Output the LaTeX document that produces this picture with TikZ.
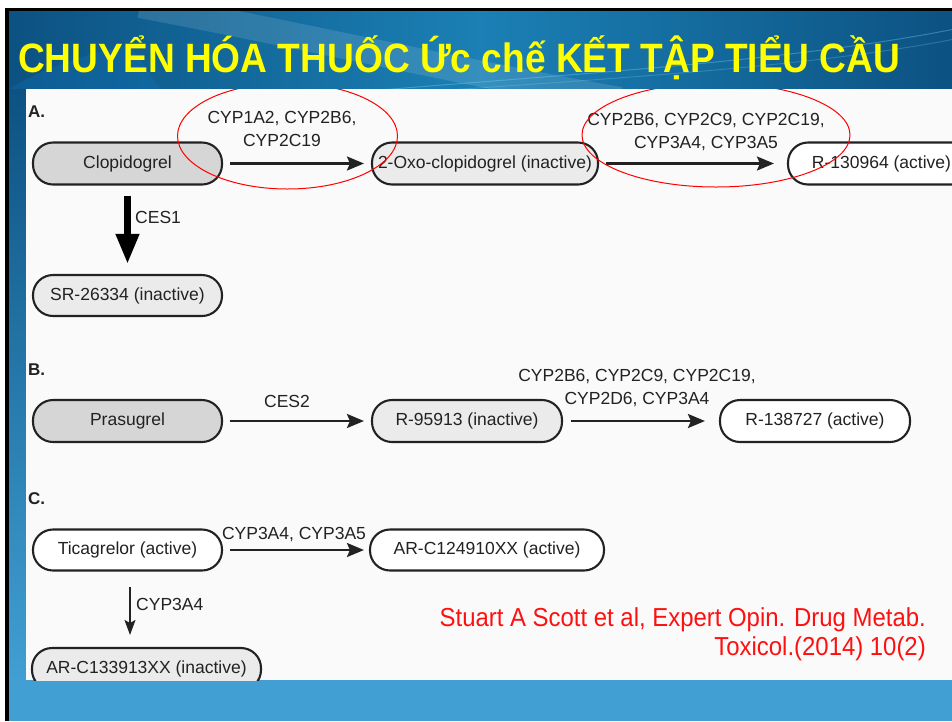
\documentclass[tikz,border=0pt]{standalone}
\usepackage{fontspec}
\usepackage{graphicx}
\setmainfont{Liberation Sans}
\usetikzlibrary{arrows.meta}
\definecolor{txt}{HTML}{222222}
\definecolor{grayA}{HTML}{D6D6D6}
\definecolor{grayB}{HTML}{EBEBEB}
\definecolor{panelbg}{HTML}{FAFAFA}
\definecolor{bluebot}{HTML}{419FD3}
\definecolor{bluedark}{HTML}{0C5282}
\definecolor{bluemid}{HTML}{1B80B5}
\definecolor{titleyellow}{HTML}{FFFF00}
\definecolor{citered}{HTML}{FF1010}
\begin{document}
\begin{tikzpicture}[x=1pt,y=-1pt,
  pill/.style={draw=txt, line width=2.1pt, rounded corners=20pt, minimum height=42pt,
    font=\fontsize{17.5}{20}\selectfont, text=txt, text height=12.5pt, text depth=3.5pt, inner sep=0pt},
  arr/.style={draw=txt, line width=2.3pt, -{Stealth[length=17pt,width=14pt,inset=3pt]}},
  thinarr/.style={draw=txt, line width=1.5pt, -{Stealth[length=15pt,width=11pt,inset=3pt]}},
  bigarr/.style={draw=black, line width=7pt, -{Triangle[length=30pt,width=22pt]}},
  lab/.style={font=\fontsize{17.5}{23}\selectfont, text=txt, align=center, inner sep=0pt},
  seclab/.style={font=\fontsize{17}{20}\selectfont\bfseries, text=txt, inner sep=0pt, anchor=west},
  redell/.style={draw=red, line width=1pt},
  cite/.style={font=\fontsize{26}{30}\selectfont, text=citered, inner sep=0pt, anchor=base east}
]
\useasboundingbox (0,0) rectangle (952,721);
% slide background
\fill[white] (0,0) rectangle (952,721);
\fill[black] (5,8) rectangle (952,721);
\shade[left color=bluedark, right color=bluedark, middle color=bluemid] (9,11) rectangle (952,89);
\begin{scope}
  \clip (9,11) rectangle (952,89);
  \draw[white, opacity=0.12, line width=26pt] (140,5) .. controls (300,35) and (450,70) .. (620,100);
  \draw[cyan!50!white, opacity=0.35, line width=1pt] (380,90) .. controls (600,72) and (800,60) .. (960,28);
  \draw[cyan!50!white, opacity=0.25, line width=1pt] (420,92) .. controls (620,78) and (820,66) .. (960,38);
  \fill[cyan!60!blue, opacity=0.25] (9,89) .. controls (40,70) and (80,55) .. (130,45) -- (160,89) -- cycle;
\end{scope}
\shade[top color=bluedark, bottom color=bluebot] (9,89) rectangle (26,680);
\fill[bluebot] (9,680) rectangle (952,721);
\fill[panelbg] (26,89) rectangle (952,680);
% title
\node[anchor=base west, inner sep=0pt, text=titleyellow, font=\fontsize{41}{45}\selectfont\bfseries]
  (title) at (18,72) {\scalebox{0.905}[1]{CHUYỂN HÓA THUỐC Ức chế KẾT TẬP TIỂU CẦU}};
\begin{scope}
\clip (26,89) rectangle (952,680);
% section A
\node[seclab] (secA) at (28,112) {A.};
\node[pill, fill=grayA, minimum width=189pt] (clo) at (127.5,163.5) {Clopidogrel};
\node[pill, fill=grayB, minimum width=226pt] (oxo) at (485,163.5) {2-Oxo-clopidogrel (inactive)};
\node[pill, fill=white, minimum width=187pt] (r130) at (881.5,163.5) {R-130964 (active)};
\node[pill, fill=grayB, minimum width=189pt, minimum height=41pt] (sr) at (127.5,295.5) {SR-26334 (inactive)};
\draw[arr, shorten <=7pt, shorten >=7pt] (clo.east) -- (oxo.west);
\draw[arr, shorten <=7pt, shorten >=13pt] (oxo.east) -- (r130.west);
\draw[bigarr, shorten <=10pt, shorten >=10pt] (clo.south) -- (sr.north);
\node[lab] (lA1) at (282,128.5) {CYP1A2, CYP2B6,\\CYP2C19};
\node[lab] (lA2) at (706,132) {CYP2B6, CYP2C9, CYP2C19,\\CYP3A4, CYP3A5};
\node[lab, anchor=west] (lCES1) at (135,217) {CES1};
% section B
\node[seclab] (secB) at (28,370) {B.};
\node[pill, fill=grayA, minimum width=189pt] (pra) at (127.5,421) {Prasugrel};
\node[pill, fill=grayB, minimum width=190pt] (r959) at (467,421) {R-95913 (inactive)};
\node[pill, fill=white, minimum width=190pt] (r138) at (815,421) {R-138727 (active)};
\draw[arr, shorten <=7pt, shorten >=7pt] (pra.east) -- (r959.west);
\draw[arr, shorten <=8pt, shorten >=14pt] (r959.east) -- (r138.west);
\node[lab] (lCES2) at (287,401) {CES2};
\node[lab] (lB2) at (637,387.5) {CYP2B6, CYP2C9, CYP2C19,\\CYP2D6, CYP3A4};
% section C
\node[seclab] (secC) at (28,499) {C.};
\node[pill, fill=white, minimum width=189pt, minimum height=41pt] (tic) at (127.5,550) {Ticagrelor (active)};
\node[pill, fill=white, minimum width=234pt, minimum height=41pt] (arc124) at (487,550) {AR-C124910XX (active)};
\node[pill, fill=grayB, minimum width=229pt] (arc133) at (146.5,669) {AR-C133913XX (inactive)};
\draw[arr, shorten <=7pt, shorten >=5pt] (tic.east) -- (arc124.west);
\coordinate (ctop) at ([xshift=2.5pt]tic.south);
\draw[thinarr, shorten <=15pt, shorten >=12pt] (ctop) -- (ctop |- arc133.north);
\node[lab] (lC1) at (294,534) {CYP3A4, CYP3A5};
\node[lab, anchor=west] (lC2) at (136,604) {CYP3A4};
% citation
\node[cite] (cite1) at (926,626) {\scalebox{0.92}[1]{Stuart A Scott et al, Expert Opin. Drug Metab.}};
\node[cite] (cite2) at (926,655) {\scalebox{0.92}[1]{Toxicol.(2014) 10(2)}};
% red ellipses
\draw[redell] (287.5,136) ellipse [x radius=110pt, y radius=53pt];
\draw[redell] (716,135) ellipse [x radius=134pt, y radius=52pt];
\end{scope}
\end{tikzpicture}
\end{document}
